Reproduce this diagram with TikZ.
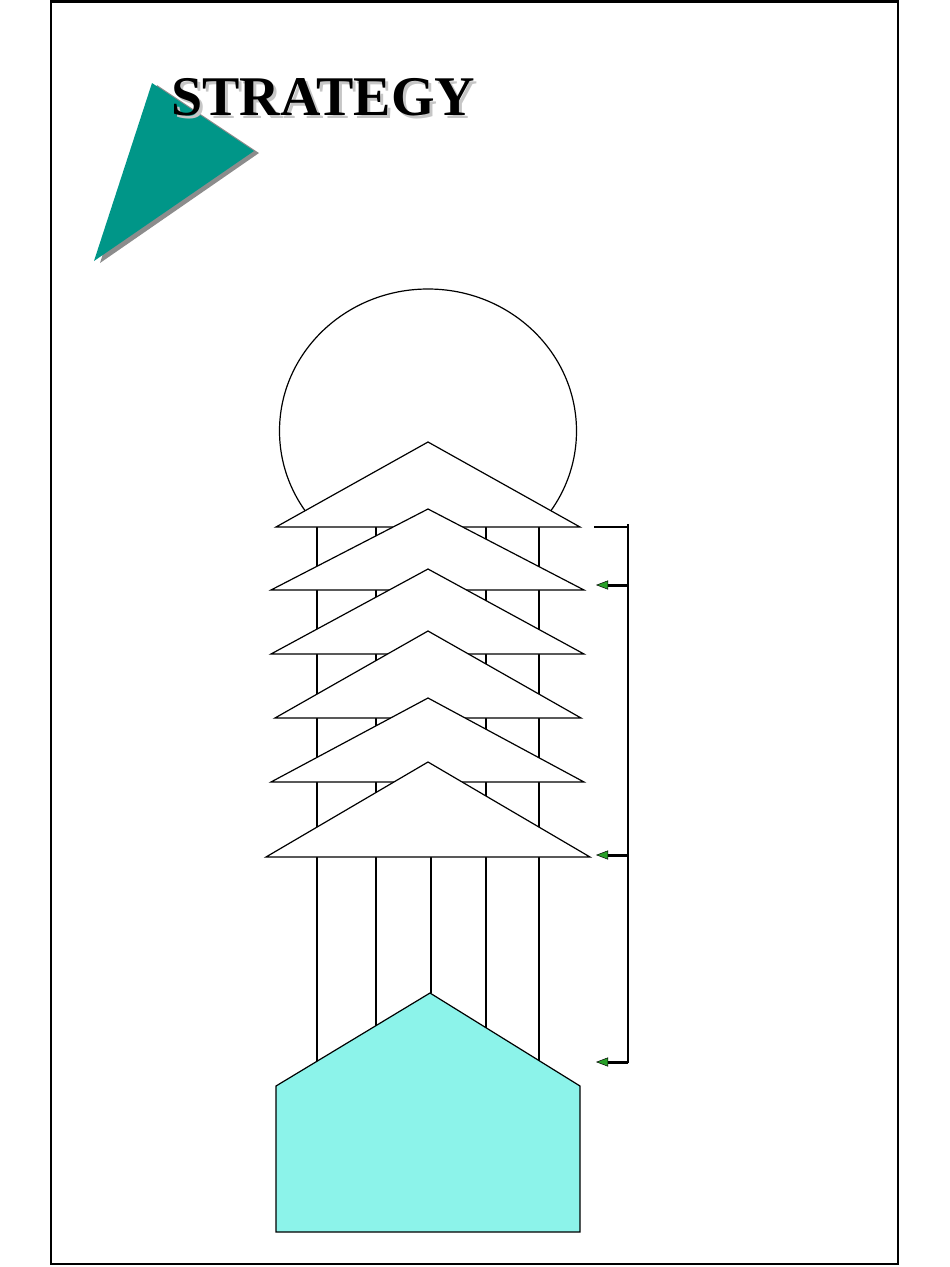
\documentclass[tikz,border=0pt]{standalone}
\usepackage{fontspec}
\setmainfont{Liberation Serif}
\usetikzlibrary{arrows.meta}
\definecolor{teal1}{RGB}{0,150,136}
\definecolor{cyan1}{RGB}{140,243,234}
\definecolor{arrgreen}{RGB}{40,160,40}
\tikzset{
  frame/.style={line width=2.8pt},
  outl/.style={draw=black, line width=1.2pt},
  roof/.style={outl, fill=white, line join=miter},
  post/.style={line width=1.2pt},
  brk/.style={line width=1.5pt},
  fbarrow/.style={line width=3pt, -{Triangle[length=12pt,width=9pt,fill=arrgreen,line width=0.5pt]}},
}
\begin{document}
\begin{tikzpicture}[x=1pt,y=-1pt]
\useasboundingbox (0,0) rectangle (950,1267);
% frame
\draw[frame] (51,1.5) rectangle (898,1264);
% title triangle with shadow
\fill[gray!90] (157,85) -- (259,153) -- (100,263) -- cycle;
\fill[teal1] (152,83) -- (254,151) -- (94,261) -- cycle;
% title with shadow (one text node)
\node[anchor=base west, font=\fontsize{56}{60}\selectfont\bfseries, inner sep=0pt] (title) at (171,115)
  {\makebox[0pt][l]{\hspace{3pt}\raisebox{-3pt}{\color{gray!45}STRATEGY}}STRATEGY};
% circle
\draw[outl] (428,431) ellipse [x radius=148.5, y radius=142];
% posts (white backing hides the lower circle)
\fill[white] (317,527) rectangle (539,1070);
\foreach \x/\y in {317/1065, 376/1030, 431/993, 486/1030, 539/1065}
  \draw[post] (\x,527) -- (\x,\y);
% roofs
\draw[roof] (428,442) -- (580,527) -- (276,527) -- cycle;
\draw[roof] (428,509) -- (584,590) -- (271,590) -- cycle;
\draw[roof] (428,569) -- (584,654) -- (271,654) -- cycle;
\draw[roof] (428,631) -- (581,718) -- (275,718) -- cycle;
\draw[roof] (428,698) -- (584,782) -- (271,782) -- cycle;
\draw[roof] (428,762) -- (590,857) -- (266,857) -- cycle;
% base pentagon
\draw[outl, fill=cyan1] (276,1086) -- (430,993) -- (580,1086) -- (580,1232) -- (276,1232) -- cycle;
% bracket
\coordinate (btop) at (628,524);
\coordinate (bbot) at (628,1063);
\coordinate (bstart) at (594,527);
\draw[brk] (bstart) -- (628,527);
\draw[brk] (btop) -- (bbot);
\foreach \y in {585,855,1062}
  \draw[fbarrow] (628,\y) -- (596,\y);
\end{tikzpicture}
\end{document}
